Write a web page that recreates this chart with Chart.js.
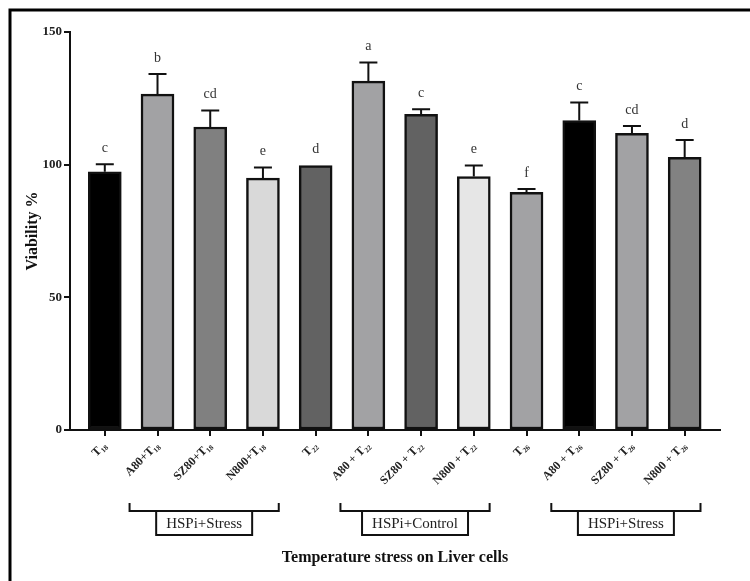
<!DOCTYPE html>
<html>
<head>
<meta charset="utf-8">
<script src="https://cdn.jsdelivr.net/npm/chart.js@4"></script>
<style>
  html, body { margin: 0; padding: 0; background: #fff; }
  #wrap { width: 750px; height: 581px; }
</style>
</head>
<body>
<div id="wrap"><canvas id="myChart" width="750" height="581"></canvas></div>
<script>
var labels = ['T₁₈', 'A80+T₁₈', 'SZ80+T₁₈', 'N800+T₁₈', 'T₂₂', 'A80 + T₂₂', 'SZ80 + T₂₂', 'N800 + T₂₂', 'T₂₆', 'A80 + T₂₆', 'SZ80 + T₂₆', 'N800 + T₂₆'];
var values = [97.3, 126.6, 114.2, 94.9, 99.7, 131.5, 119.0, 95.5, 89.6, 116.6, 111.8, 102.8];
var errors = [2.9, 7.6, 6.2, 4.0, 0, 7.0, 1.9, 4.2, 1.2, 6.8, 2.8, 6.5];
var letters = ['c', 'b', 'cd', 'e', 'd', 'a', 'c', 'e', 'f', 'c', 'cd', 'd'];
var barColors = ['#000000', '#a2a2a4', '#808080', '#d9d9d9', '#626262', '#a2a2a4', '#626262', '#e6e6e6', '#a2a2a4', '#000000', '#a2a2a4', '#828282'];
var yTicks = [0, 50, 100, 150];
var groupLabels = ['HSPi+Stress', 'HSPi+Control', 'HSPi+Stress'];
var groupFirst = [1, 5, 9];
var groupLast = [3, 7, 11];

var serif = "'Liberation Serif', 'DejaVu Serif', serif";

var extras = {
    id: 'extras',
    beforeDraw: function(chart) {
        var c = chart.ctx;
        c.save();
        c.fillStyle = '#fff';
        c.fillRect(0, 0, chart.width, chart.height);
        c.strokeStyle = '#000';
        c.lineWidth = 3;
        c.strokeRect(10, 10, 800, 700);
        c.restore();
    },
    afterDatasetsDraw: function(chart) {
        var c = chart.ctx;
        var y = chart.scales.y;
        var meta = chart.getDatasetMeta(0);
        c.save();
        c.strokeStyle = '#111';
        c.lineWidth = 2;
        c.fillStyle = '#333';
        c.font = '14px ' + serif;
        c.textAlign = 'center';
        c.textBaseline = 'middle';
        meta.data.forEach(function(bar, i) {
            var top = y.getPixelForValue(values[i] + errors[i]);
            if (errors[i] > 0) {
                c.beginPath();
                c.moveTo(bar.x, bar.y);
                c.lineTo(bar.x, top);
                c.moveTo(bar.x - 9, top);
                c.lineTo(bar.x + 9, top);
                c.stroke();
            }
            c.fillText(letters[i], bar.x, top - 16);
        });
        c.restore();
    },
    afterDraw: function(chart) {
        var c = chart.ctx;
        var x = chart.scales.x;
        c.save();
        c.strokeStyle = '#111';
        c.fillStyle = '#222';
        c.lineWidth = 2;
        c.font = '15px ' + serif;
        c.textAlign = 'center';
        c.textBaseline = 'middle';
        groupLabels.forEach(function(g, i) {
            var x0 = x.getPixelForValue(groupFirst[i] - 0.53);
            var x1 = x.getPixelForValue(groupLast[i] + 0.3);
            c.beginPath();
            c.moveTo(x0, 503);
            c.lineTo(x0, 511);
            c.lineTo(x1, 511);
            c.lineTo(x1, 503);
            c.stroke();
            var w = c.measureText(g).width + 20;
            var mid = (x0 + x1) / 2;
            c.strokeRect(mid - w / 2, 511, w, 24);
            c.fillText(g, mid, 524);
        });
        c.fillStyle = '#111';
        c.font = 'bold 16px ' + serif;
        c.fillText('Temperature stress on Liver cells', (chart.chartArea.left + chart.chartArea.right) / 2, 558);
        c.translate(33, 231);
        c.rotate(-Math.PI / 2);
        c.fillText('Viability %', 0, 0);
        c.restore();
    }
};

var ctx = document.getElementById('myChart').getContext('2d');
var chart = new Chart(ctx, {
    type: 'bar',
    data: {
        datasets: [{
            data: values.map(function(v, i) { return { x: i, y: v }; }),
            backgroundColor: barColors,
            borderColor: '#111',
            borderWidth: 2.5,
            borderSkipped: false,
            barThickness: 33
        }]
    },
    options: {
        responsive: false,
        animation: false,
        layout: { padding: { top: 32, right: 30, left: 0, bottom: 0 } },
        plugins: {
            legend: { display: false },
            tooltip: { enabled: false }
        },
        scales: {
            x: {
                type: 'linear',
                min: -0.66,
                max: 11.67,
                offset: false,
                afterBuildTicks: function(scale) {
                    scale.ticks = labels.map(function(l, i) { return { value: i }; });
                },
                afterFit: function(scale) { scale.height = 151; },
                grid: { offset: false, drawOnChartArea: false, drawTicks: true, tickLength: 6, color: '#111', lineWidth: 2 },
                border: { color: '#111', width: 2 },
                ticks: {
                    autoSkip: false,
                    minRotation: 45,
                    maxRotation: 45,
                    padding: 3,
                    color: '#222',
                    font: { family: serif, size: 12, weight: 'bold' },
                    callback: function(v) { return labels[v]; }
                }
            },
            y: {
                min: 0,
                max: 150,
                afterBuildTicks: function(scale) {
                    scale.ticks = yTicks.map(function(v) { return { value: v }; });
                },
                afterFit: function(scale) { scale.width = 70; },
                grid: { drawOnChartArea: false, drawTicks: true, tickLength: 6, color: '#111', lineWidth: 2 },
                border: { color: '#111', width: 2 },
                ticks: {
                    padding: 2,
                    color: '#222',
                    font: { family: serif, size: 13, weight: 'bold' }
                }
            }
        }
    },
    plugins: [extras]
});
</script>
</body>
</html>
